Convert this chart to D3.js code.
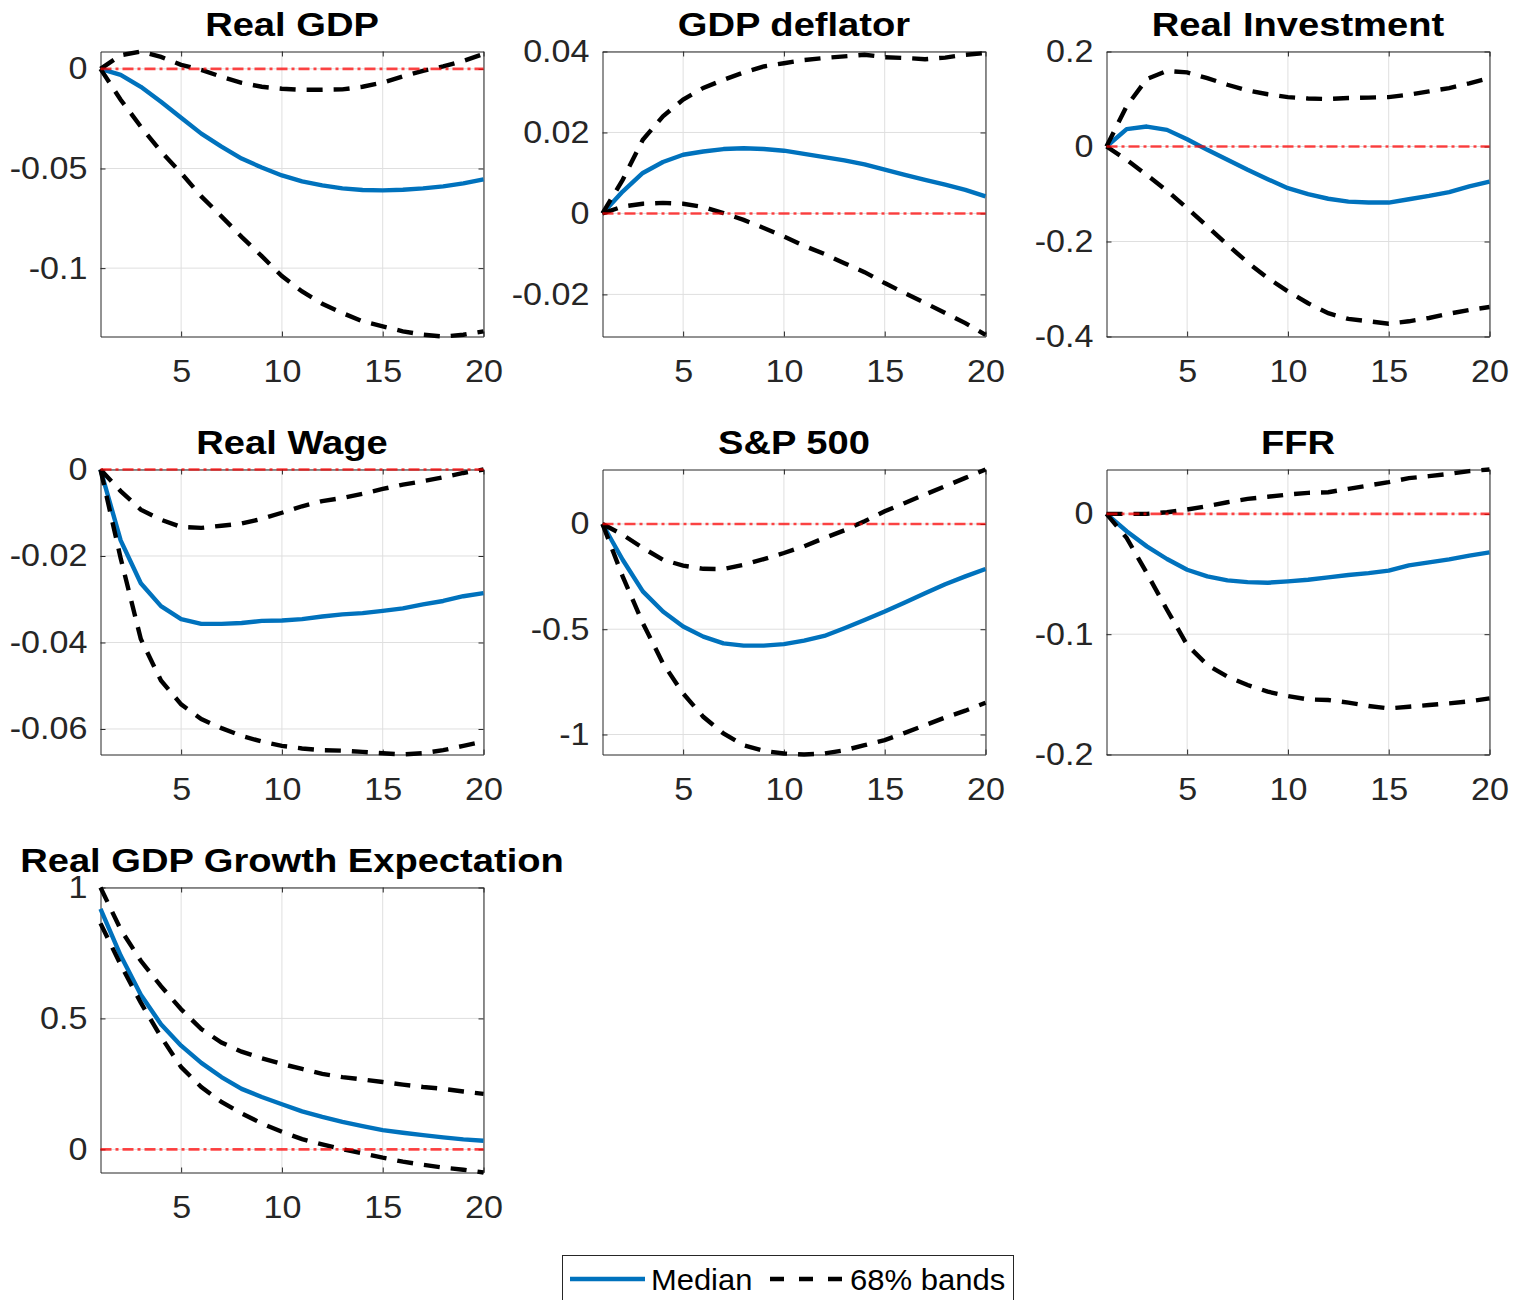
<!DOCTYPE html>
<html><head><meta charset="utf-8">
<script src="https://cdn.jsdelivr.net/npm/d3@7"></script>
<style>body{margin:0;background:#fff}</style>
</head><body>
<script>
// ---------------- DATA ----------------
const horizons = [1,2,3,4,5,6,7,8,9,10,11,12,13,14,15,16,17,18,19,20];
const xTicks = [5,10,15,20];
const xTickLabels = ["5","10","15","20"];

const titles = ["Real GDP","GDP deflator","Real Investment","Real Wage","S&P 500","FFR","Real GDP Growth Expectation"];

const realGdpMedian = [0,-0.003,-0.009,-0.0165,-0.0245,-0.0325,-0.039,-0.045,-0.0495,-0.0535,-0.0565,-0.0585,-0.060,-0.0608,-0.061,-0.0607,-0.060,-0.059,-0.0575,-0.0555];
const realGdpUpper  = [0,0.0068,0.0087,0.006,0.002,-0.0005,-0.004,-0.007,-0.009,-0.010,-0.0105,-0.0105,-0.0103,-0.009,-0.0069,-0.0038,-0.001,0.0012,0.004,0.0074];
const realGdpLower  = [0,-0.0155,-0.029,-0.0415,-0.0523,-0.064,-0.074,-0.0843,-0.094,-0.104,-0.1117,-0.1179,-0.1225,-0.1267,-0.1292,-0.1317,-0.1334,-0.1343,-0.1334,-0.1317];

const deflatorMedian = [0,0.0054,0.010,0.0127,0.0145,0.0153,0.0159,0.0161,0.0159,0.0155,0.0147,0.0139,0.0131,0.0121,0.0108,0.0095,0.0083,0.0071,0.0058,0.0042];
const deflatorUpper  = [0,0.0083,0.0182,0.024,0.0281,0.031,0.033,0.0348,0.0363,0.0371,0.0379,0.0384,0.0388,0.0392,0.0386,0.0384,0.0381,0.0385,0.0392,0.0396];
const deflatorLower  = [0,0.0017,0.0024,0.0026,0.0024,0.0016,0.0001,-0.0016,-0.0036,-0.0057,-0.008,-0.010,-0.0123,-0.0145,-0.0172,-0.0197,-0.0221,-0.0246,-0.0271,-0.030];

const investMedian = [0,0.0365,0.042,0.035,0.0154,-0.007,-0.028,-0.049,-0.0688,-0.0877,-0.1004,-0.110,-0.116,-0.118,-0.118,-0.111,-0.104,-0.096,-0.084,-0.074];
const investUpper  = [0,0.085,0.142,0.159,0.156,0.144,0.130,0.118,0.110,0.104,0.101,0.100,0.102,0.103,0.104,0.109,0.116,0.123,0.133,0.144];
const investLower  = [0,-0.028,-0.060,-0.093,-0.130,-0.168,-0.207,-0.244,-0.277,-0.305,-0.330,-0.351,-0.363,-0.368,-0.373,-0.368,-0.361,-0.352,-0.344,-0.338];

const wageMedian = [0,-0.0164,-0.0263,-0.0316,-0.0346,-0.0357,-0.0357,-0.0355,-0.035,-0.0349,-0.0346,-0.034,-0.0335,-0.0332,-0.0327,-0.0321,-0.0312,-0.0304,-0.0293,-0.0286];
const wageUpper  = [0,-0.005,-0.0093,-0.0116,-0.0133,-0.0135,-0.013,-0.0125,-0.0114,-0.010,-0.0085,-0.0073,-0.0066,-0.0056,-0.0045,-0.0035,-0.0027,-0.0018,-0.0008,0];
const wageLower  = [0,-0.0205,-0.0392,-0.0488,-0.0543,-0.0577,-0.0598,-0.0616,-0.0629,-0.0639,-0.0645,-0.0649,-0.065,-0.0653,-0.0656,-0.0659,-0.0656,-0.0649,-0.0639,-0.0629];

const spMedian = [0,-0.17,-0.32,-0.416,-0.487,-0.535,-0.567,-0.578,-0.578,-0.571,-0.554,-0.532,-0.495,-0.456,-0.416,-0.373,-0.329,-0.286,-0.249,-0.214];
const spUpper  = [0,-0.051,-0.114,-0.17,-0.198,-0.213,-0.214,-0.194,-0.167,-0.138,-0.106,-0.067,-0.03,0.013,0.06,0.1,0.14,0.179,0.219,0.259];
const spLower  = [0,-0.249,-0.471,-0.662,-0.805,-0.916,-0.995,-1.051,-1.078,-1.09,-1.095,-1.09,-1.075,-1.051,-1.027,-0.992,-0.956,-0.919,-0.887,-0.849];

const ffrMedian = [0,-0.0144,-0.027,-0.0375,-0.0464,-0.052,-0.0553,-0.0567,-0.0572,-0.0561,-0.0547,-0.0528,-0.0508,-0.0492,-0.0472,-0.0428,-0.0403,-0.0378,-0.0347,-0.032];
const ffrUpper  = [0,0,0,0.0014,0.0036,0.0064,0.0097,0.0125,0.0142,0.0161,0.0175,0.018,0.0208,0.0236,0.0264,0.0297,0.0314,0.0333,0.0356,0.0369];
const ffrLower  = [0,-0.02,-0.0492,-0.0797,-0.1089,-0.1256,-0.1353,-0.1422,-0.1478,-0.1514,-0.1542,-0.1547,-0.1569,-0.1597,-0.1617,-0.1603,-0.1589,-0.1575,-0.1558,-0.1533];

const expectMedian = [0.918,0.74,0.59,0.478,0.396,0.33,0.276,0.231,0.2,0.172,0.145,0.124,0.105,0.0885,0.0733,0.0632,0.0544,0.0455,0.038,0.033];
const expectUpper  = [1.0,0.84,0.72,0.623,0.535,0.459,0.408,0.373,0.348,0.326,0.307,0.288,0.276,0.267,0.257,0.247,0.238,0.231,0.221,0.212];
const expectLower  = [0.863,0.705,0.56,0.43,0.314,0.238,0.181,0.137,0.099,0.067,0.039,0.019,0,-0.015,-0.032,-0.047,-0.059,-0.07,-0.078,-0.0885];

const yLimits = [[-0.1343,0.0087],[-0.0304,0.04],[-0.4,0.2],[-0.0659,0],[-1.095,0.2587],[-0.2,0.0369],[-0.0885,1]];
const yTickValues = [[-0.1,-0.05,0],[-0.02,0,0.02,0.04],[-0.4,-0.2,0,0.2],[-0.06,-0.04,-0.02,0],[-1,-0.5,0],[-0.2,-0.1,0],[0,0.5,1]];
const yTickLabels = [["-0.1","-0.05","0"],["-0.02","0","0.02","0.04"],["-0.4","-0.2","0","0.2"],["-0.06","-0.04","-0.02","0"],["-1","-0.5","0"],["-0.2","-0.1","0"],["0","0.5","1"]];

const legendLabels = ["Median","68% bands"];

// ---------------- CHART ----------------
const FONT = "'Liberation Sans', Arial, Helvetica, sans-serif";
const AX = "#262626";
const svg = d3.select("body").append("svg")
  .attr("width",1526).attr("height",1300)
  .style("font-family",FONT);

const colLeft = [100.5,602.5,1106.5], rowTop = [51.5,469.5,887.5], pw = 383, ph = 285;

const medians = [realGdpMedian,deflatorMedian,investMedian,wageMedian,spMedian,ffrMedian,expectMedian];
const uppers  = [realGdpUpper,deflatorUpper,investUpper,wageUpper,spUpper,ffrUpper,expectUpper];
const lowers  = [realGdpLower,deflatorLower,investLower,wageLower,spLower,ffrLower,expectLower];

function stretch(sel, f){
  sel.each(function(){
    const w = this.getComputedTextLength();
    d3.select(this).attr("textLength", w*f).attr("lengthAdjust","spacingAndGlyphs");
  });
}

titles.forEach((t,i)=>{
  const left = colLeft[i%3], top = rowTop[Math.floor(i/3)];
  const x = d3.scaleLinear().domain([horizons[0],horizons[horizons.length-1]]).range([left,left+pw]);
  const y = d3.scaleLinear().domain(yLimits[i]).range([top+ph,top]);
  const g = svg.append("g");

  // grid
  g.append("g").selectAll("line").data(xTicks).join("line")
    .attr("x1",d=>x(d)).attr("x2",d=>x(d)).attr("y1",top).attr("y2",top+ph)
    .attr("stroke","#dfdfdf").attr("stroke-width",1);
  g.append("g").selectAll("line").data(yTickValues[i]).join("line")
    .attr("x1",left).attr("x2",left+pw).attr("y1",d=>y(d)).attr("y2",d=>y(d))
    .attr("stroke","#dfdfdf").attr("stroke-width",1);

  // axes
  const styleAxis = a => {
    a.select(".domain").attr("stroke",AX).attr("stroke-width",1);
    a.selectAll(".tick line").attr("stroke",AX);
    a.selectAll(".tick text").attr("fill",AX).style("font-size","31px").style("font-family",FONT);
  };
  const bottom = g.append("g").attr("transform",`translate(0,${top+ph})`)
    .call(d3.axisBottom(x).tickValues(xTicks).tickFormat((d,k)=>xTickLabels[k]).tickSizeInner(-5).tickSizeOuter(0).tickPadding(23));
  styleAxis(bottom);
  const leftAx = g.append("g").attr("transform",`translate(${left},0)`)
    .call(d3.axisLeft(y).tickValues(yTickValues[i]).tickFormat((d,k)=>yTickLabels[i][k]).tickSizeInner(-5).tickSizeOuter(0).tickPadding(13));
  styleAxis(leftAx);
  const topAx = g.append("g").attr("transform",`translate(0,${top})`)
    .call(d3.axisTop(x).tickValues(xTicks).tickFormat("").tickSizeInner(-5).tickSizeOuter(0));
  styleAxis(topAx);
  const rightAx = g.append("g").attr("transform",`translate(${left+pw},0)`)
    .call(d3.axisRight(y).tickValues(yTickValues[i]).tickFormat("").tickSizeInner(-5).tickSizeOuter(0));
  styleAxis(rightAx);
  bottom.selectAll(".tick text").call(stretch,1.1);
  leftAx.selectAll(".tick text").call(stretch,1.1);

  // data
  const line = d3.line().x((d,k)=>x(horizons[k])).y(d=>y(d));
  g.append("path").attr("d",line(medians[i])).attr("fill","none")
    .attr("stroke","#0072BD").attr("stroke-width",4.4).attr("stroke-linejoin","round");
  [uppers[i],lowers[i]].forEach(s=>{
    g.append("path").attr("d",line(s)).attr("fill","none")
      .attr("stroke","#000").attr("stroke-width",4.4).attr("stroke-dasharray","16,11");
  });
  g.append("line").attr("x1",x(horizons[0])).attr("x2",x(horizons[horizons.length-1]))
    .attr("y1",y(0)).attr("y2",y(0))
    .attr("stroke","#ff0000").attr("stroke-opacity",0.72).attr("stroke-width",2.6)
    .attr("stroke-dasharray","11,4,3,4");

  // title
  const tt = g.append("text").attr("x",left+pw/2).attr("y",top-16)
    .attr("text-anchor","middle").attr("font-weight","bold").attr("font-size",33)
    .attr("fill","#000").text(t);
  stretch(tt,1.155);
});

// legend
const lg = svg.append("g");
lg.append("rect").attr("x",562.5).attr("y",1255.5).attr("width",451).attr("height",70)
  .attr("fill","#fff").attr("stroke",AX).attr("stroke-width",1);
lg.append("line").attr("x1",570).attr("x2",645).attr("y1",1279).attr("y2",1279)
  .attr("stroke","#0072BD").attr("stroke-width",4.4);
lg.append("text").attr("x",651).attr("y",1290).attr("font-size",30).attr("fill","#000").text(legendLabels[0])
  .call(stretch,1.03);
lg.append("line").attr("x1",770).attr("x2",845).attr("y1",1279).attr("y2",1279)
  .attr("stroke","#000").attr("stroke-width",4.4).attr("stroke-dasharray","14,15");
lg.append("text").attr("x",850).attr("y",1290).attr("font-size",30).attr("fill","#000").text(legendLabels[1])
  .call(stretch,1.035);
</script>
</body></html>
